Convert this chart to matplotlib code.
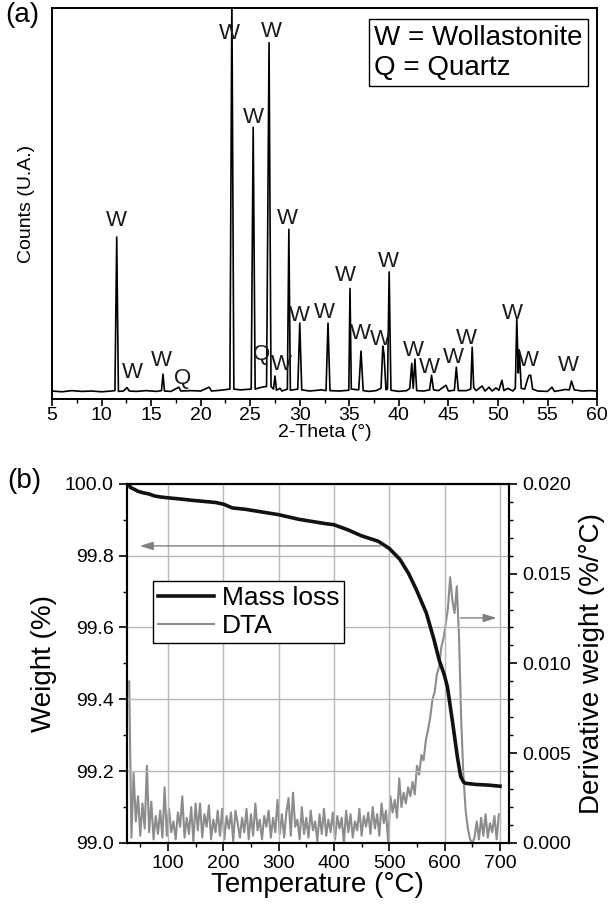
import matplotlib
matplotlib.use('Agg')

import matplotlib.pyplot as plt
import matplotlib.ticker as mticker
import numpy as np

plt.rcParams['font.family'] = ['Liberation Sans', 'DejaVu Sans']

# ---- (a) XRD pattern: vertices
two_theta = [5.0, 6.0, 7.0, 8.0, 9.0, 10.0, 11.0, 11.35, 11.53, 11.7, 12.2, 12.57, 12.8,
             13.5, 14.5, 15.5, 16.05, 16.2, 16.35, 17.0, 17.8, 18.0, 19.0, 20.0, 20.85,
             21.1, 22.0, 22.95, 23.15, 23.35, 24.0, 25.1, 25.3, 25.5, 26.0, 26.65, 26.9,
             27.1, 27.35, 27.5, 27.65, 28.0, 28.2, 28.75, 28.9, 29.05, 29.3, 29.8, 30.0,
             30.2, 31.0, 32.2, 32.65, 32.85, 33.05, 34.0, 34.95, 35.07, 35.2, 35.95, 36.18,
             36.4, 37.0, 37.7, 38.2, 38.38, 38.5, 38.7, 38.85, 39.02, 39.2, 40.0, 40.8,
             41.1, 41.3, 41.45, 41.62, 41.8, 42.5, 43.1, 43.3, 43.5, 44.0, 44.75, 45.0,
             45.6, 45.8, 46.0, 46.8, 47.25, 47.4, 47.55, 47.8, 48.4, 48.7, 49.1, 49.4,
             49.8, 50.1, 50.4, 50.6, 51.0, 51.5, 51.75, 51.9, 52.05, 52.15, 52.35, 52.7,
             53.0, 53.15, 53.3, 53.5, 54.0, 55.0, 55.45, 55.7, 56.4, 56.8, 57.2, 57.42,
             57.7, 58.5, 59.3, 60.0]
counts = [0.3, 0.1, 0.4, 0.2, 0.3, 0.1, 0.3, 0.4, 40.4, 0.2, 0.3, 1.2, 0.3,
          0.2, 0.4, 0.2, 0.4, 4.7, 0.3, 0.2, 1.3, 0.3, 0.4, 0.3, 1.3,
          0.3, 0.5, 0.8, 102.0, 0.8, 0.6, 0.8, 69.0, 0.8, 1.2, 1.5, 91.0,
          1.5, 0.8, 4.2, 0.5, 1.0, 0.3, 0.8, 42.4, 0.5, 0.6, 0.8, 18.0,
          0.6, 0.3, 0.6, 0.4, 18.0, 0.4, 0.3, 0.5, 27.0, 0.8, 0.6, 10.7,
          0.4, 0.2, 0.4, 1.0, 12.0, 10.0, 0.6, 0.8, 31.3, 0.5, 0.2, 0.4,
          1.0, 7.5, 1.0, 8.6, 0.4, 0.3, 0.6, 4.4, 0.6, 0.4, 1.8, 0.3,
          0.5, 6.5, 0.4, 0.4, 0.8, 11.7, 1.2, 0.4, 1.6, 0.3, 1.3, 0.3,
          1.1, 0.5, 3.1, 0.4, 1.0, 0.3, 1.0, 19.0, 5.0, 11.0, 1.0, 0.8,
          3.5, 4.4, 4.4, 0.8, 0.3, 0.2, 1.3, 0.2, 0.5, 0.7, 0.6, 2.9,
          0.6, 0.3, 0.4, 0.3]

# phase labels above the peaks
peak_text = ['W', 'W', 'W', 'Q', 'W', 'W', 'W', 'Q', 'W', 'W', 'W', 'W', 'W',
             'W', 'W', 'W', 'W', 'W', 'W', 'W', 'W', 'W', 'W']
peak_x = [11.5, 13.1, 16.0, 18.2, 22.9, 25.3, 27.1, 26.15, 28.1, 28.8, 30.0, 32.45,
          34.6, 36.1, 38.1, 38.9, 41.5, 43.1, 45.5, 46.8, 51.5, 53.1, 57.1]
peak_y = [44.8, 5.2, 8.3, 3.6, 93.5, 71.4, 93.8, 9.9, 7.3, 45.3, 20.0, 20.8,
          30.5, 15.4, 13.8, 33.9, 10.9, 6.5, 9.1, 14.1, 20.6, 8.3, 7.0]

# ---- (b) TGA / DTA
temp_mass = [30, 32, 40, 46, 55, 65, 76, 88, 100, 120, 144, 165, 186, 201, 216, 240,
             264, 300, 337, 385, 400, 425, 450, 480, 500, 519, 535, 549, 567, 581, 590,
             599, 605, 614, 623, 629, 634, 638, 656, 680, 700]
mass_loss = [99.998, 99.99, 99.984, 99.979, 99.975, 99.972, 99.966, 99.963, 99.961,
             99.958, 99.954, 99.951, 99.948, 99.943, 99.933, 99.929, 99.923, 99.914,
             99.901, 99.889, 99.886, 99.872, 99.855, 99.84, 99.82, 99.79, 99.75, 99.705,
             99.64, 99.565, 99.51, 99.47, 99.435, 99.34, 99.24, 99.185, 99.17, 99.166,
             99.163, 99.161, 99.158]

temp_dta = np.arange(30, 700, 4)
dta_milli = [9.0, 0.3, 3.9, 1.2, 2.6, 0.4, 2.2, 0.8, 4.3, 0.6,
             2.3, 0.2, 1.5, 0.5, 1.8, 0.3, 3.1, 0.4, 1.9, 0.6,
             1.2, 0.2, 1.7, 0.9, 2.6, 0.3, 1.4, 0.5, 2.0, 0.1,
             2.2, 0.7, 2.2, 0.3, 1.6, 0.9, 2.1, 0.2, 1.3, 0.6,
             1.8, 0.4, 1.9, 0.2, 1.5, 0.8, 1.7, 0.1, 1.8, 1.1,
             0.3, 1.4, 0.6, 1.9, 0.2, 1.6, 0.4, 2.2, 0.7, 1.3,
             0.2, 1.5, 0.9, 1.8, 0.3, 1.4, 0.6, 2.4, 0.5, 1.6,
             0.3, 1.7, 2.5, 0.4, 2.8, 0.9, 1.3, 0.2, 2.0, 0.5,
             1.4, 0.3, 1.8, 0.7, 1.2, 0.1, 1.6, 0.5, 1.9, 0.4,
             1.3, 0.6, 1.7, 0.2, 1.5, 0.8, 1.4, 0.0, 1.8, 0.6,
             1.6, 0.3, 1.2, 0.7, 1.9, 0.4, 1.5, 0.9, 1.7, 0.5,
             2.0, 0.8, 1.6, 0.4, 2.2, 1.1, 1.8, 0.0, 2.6, 1.7,
             2.4, 1.4, 3.6, 2.0, 2.8, 2.2, 3.1, 2.6, 3.4, 2.7,
             4.3, 3.8, 4.9, 4.6, 5.7, 6.3, 7.0, 8.0, 8.4, 9.4,
             9.8, 10.9, 11.4, 12.2, 13.1, 14.8, 13.5, 12.8, 14.3, 11.5,
             6.8, 3.7, 1.8, 0.8, 0.2, 0.0, 0.3, 1.2, 0.2, 1.4,
             0.4, 1.6, 0.3, 1.1, 0.6, 1.5, 0.2, 1.6]
dta = np.array(dta_milli) / 1000.0

fig = plt.figure(figsize=(6.09, 9.07), dpi=100)

# ---------------- panel (a)
ax1 = fig.add_axes([0.0854, 0.560, 0.895, 0.431])
ax1.plot(two_theta, counts, color='black', lw=1.2)
for t, x, y in zip(peak_text, peak_x, peak_y):
    ax1.text(x, y, t, ha='center', va='center', fontsize=16, color='#1a1a1a')
ax1.set_xlim(5, 60)
ax1.set_ylim(-1.8, 100)
ax1.set_yticks([])
ax1.xaxis.set_major_locator(mticker.MultipleLocator(5))
ax1.xaxis.set_minor_locator(mticker.MultipleLocator(2.5))
ax1.tick_params(axis='x', which='major', direction='out', length=5, width=1.2,
                labelsize=14, pad=1)
ax1.tick_params(axis='x', which='minor', direction='out', length=3, width=1.0)
ax1.set_xlabel('2-Theta (°)', fontsize=14, labelpad=0)
ax1.set_ylabel('Counts (U.A.)', fontsize=14, labelpad=12)
for s in ax1.spines.values():
    s.set_linewidth(1.4)
ax1.text(0.591, 0.958, 'W = Wollastonite\nQ = Quartz', transform=ax1.transAxes,
         ha='left', va='top', fontsize=20, linespacing=1.2,
         bbox=dict(boxstyle='square,pad=0.2', fc='white', ec='black', lw=1))
fig.text(0.008, 0.998, '(a)', fontsize=20, ha='left', va='top')

# ---------------- panel (b)
ax2 = fig.add_axes([0.2085, 0.0706, 0.627, 0.396])
ax3 = ax2.twinx()
ax2.set_zorder(ax3.get_zorder() + 1)
ax2.patch.set_visible(False)

l1, = ax2.plot(temp_mass, mass_loss, color='#111111', lw=2.6, label='Mass loss')
l2, = ax3.plot(temp_dta, dta, color='#8c8c8c', lw=1.5, label='DTA')

ax2.set_xlim(26, 716)
ax2.set_ylim(99.0, 100.0)
ax3.set_ylim(0.0, 0.020)
ax2.xaxis.set_major_locator(mticker.MultipleLocator(100))
ax2.xaxis.set_minor_locator(mticker.MultipleLocator(50))
ax2.yaxis.set_major_locator(mticker.MultipleLocator(0.2))
ax2.yaxis.set_minor_locator(mticker.MultipleLocator(0.1))
ax2.yaxis.set_major_formatter(mticker.FormatStrFormatter('%.1f'))
ax3.yaxis.set_major_locator(mticker.MultipleLocator(0.005))
ax3.yaxis.set_minor_locator(mticker.MultipleLocator(0.001))
ax3.yaxis.set_major_formatter(mticker.FormatStrFormatter('%.3f'))
ax2.grid(True, which='major', color='#b8b8b8', lw=1.0)
for a in (ax2, ax3):
    a.tick_params(which='major', direction='out', length=6, width=1.2, labelsize=14)
    a.tick_params(which='minor', direction='out', length=3, width=1.0)
    for s in a.spines.values():
        s.set_linewidth(1.5)
ax2.tick_params(axis='x', pad=3)

ax2.set_xlabel('Temperature (°C)', fontsize=20, labelpad=0)
ax2.set_ylabel('Weight (%)', fontsize=20, labelpad=6)
ax3.set_ylabel('Derivative weight (%/°C)', fontsize=20, labelpad=6)

ax2.annotate('', xy=(44, 99.827), xytext=(489, 99.827),
             arrowprops=dict(arrowstyle='-|>,head_length=0.8,head_width=0.25',
                             color='#808080', lw=1.0, mutation_scale=10))
ax3.annotate('', xy=(699, 0.01253), xytext=(624, 0.01253),
             arrowprops=dict(arrowstyle='-|>,head_length=0.8,head_width=0.25',
                             color='#808080', lw=1.0, mutation_scale=10))

leg = ax2.legend([l1, l2], ['Mass loss', 'DTA'], loc='upper left',
                 bbox_to_anchor=(0.068, 0.73), fontsize=19, frameon=True,
                 fancybox=False, edgecolor='black', framealpha=1,
                 handlelength=2.1, handletextpad=0.3, labelspacing=0.15,
                 borderpad=0.2, borderaxespad=0)
leg.get_frame().set_linewidth(1.0)
fig.text(0.012, 0.470, '(b)', fontsize=20, ha='left', va='center')

plt.savefig('out.png', dpi=100)
